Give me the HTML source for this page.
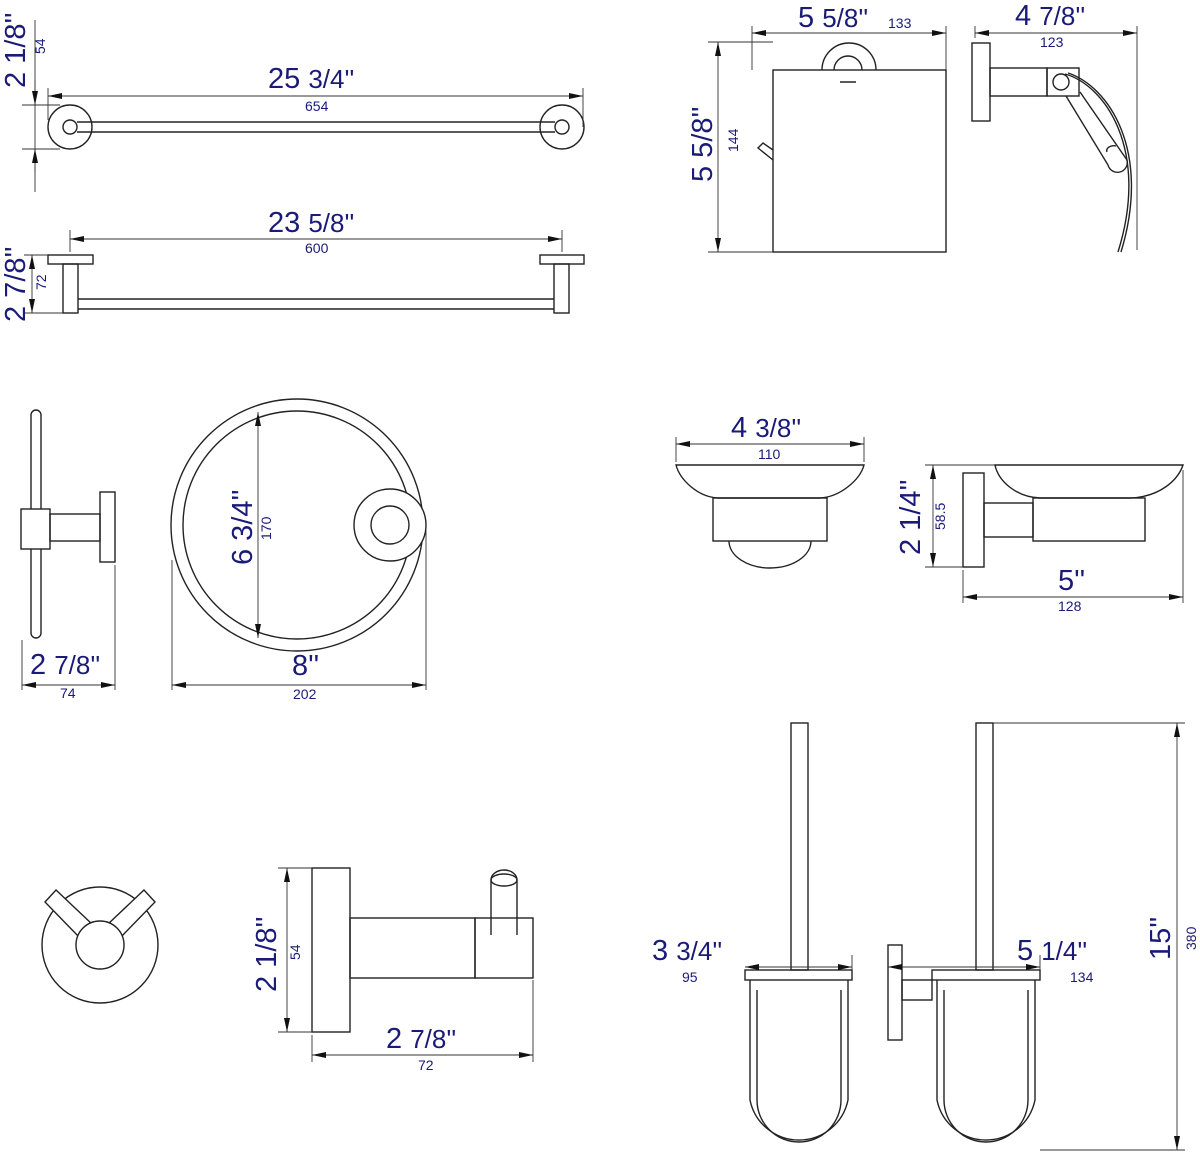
<!DOCTYPE html>
<html><head><meta charset="utf-8"><style>
html,body{margin:0;padding:0;background:#fff;}
svg{display:block;}
.l{fill:none;stroke:#222;stroke-width:1.4}
.w{fill:#fff;stroke:#222;stroke-width:1.4}
.d{fill:none;stroke:#333;stroke-width:0.9}
.b{fill:#1a1a78;font-family:"Liberation Sans",sans-serif;font-size:29px;}
.s{fill:#1a1a78;font-family:"Liberation Sans",sans-serif;font-size:14px;}
</style></head><body>
<svg width="1200" height="1152" viewBox="0 0 1200 1152" xmlns="http://www.w3.org/2000/svg">
<defs><marker id="a" markerWidth="14" markerHeight="8" refX="14" refY="4" orient="auto-start-reverse" markerUnits="userSpaceOnUse"><path d="M0,1 L14,4 L0,7 Z" fill="#111"/></marker></defs>

<!-- Towel bar 1 -->
<circle class="l" cx="70" cy="127" r="22"/><circle class="l" cx="70" cy="127" r="7"/>
<circle class="l" cx="562" cy="127" r="22"/><circle class="l" cx="562" cy="127" r="7"/>
<path class="l" d="M77,122 H555 M77,132 H555"/>
<path class="d" d="M48,88 V120 M583,88 V127 M22,105 H60 M22,149 H60 M35,20 V192"/>
<line class="d" x1="48" y1="96" x2="583" y2="96" marker-start="url(#a)" marker-end="url(#a)"/>
<line class="d" x1="35" y1="80" x2="35" y2="105" marker-end="url(#a)"/>
<line class="d" x1="35" y1="172" x2="35" y2="149" marker-end="url(#a)"/>
<text class="b" x="268" y="88">25 <tspan font-size="26">3/4''</tspan></text>
<text class="s" x="305" y="111">654</text>
<text class="b" transform="translate(25,88) rotate(-90)">2 1/8''</text>
<text class="s" transform="translate(45,54) rotate(-90)">54</text>

<!-- Towel bar 2 -->
<rect class="l" x="48" y="255" width="45" height="9"/><rect class="l" x="63" y="264" width="15" height="49"/>
<rect class="l" x="540" y="255" width="44" height="9"/><rect class="l" x="554" y="264" width="15" height="49"/>
<path class="l" d="M78,299 H554 M78,309 H554"/>
<path class="d" d="M70,230 V252 M562,230 V252 M24,255 H48 M24,313 H63"/>
<line class="d" x1="70" y1="239" x2="562" y2="239" marker-start="url(#a)" marker-end="url(#a)"/>
<line class="d" x1="32" y1="255" x2="32" y2="313" marker-start="url(#a)" marker-end="url(#a)"/>
<text class="b" x="268" y="232">23 <tspan font-size="26">5/8''</tspan></text>
<text class="s" x="305" y="253">600</text>
<text class="b" transform="translate(25,322) rotate(-90)">2 7/8''</text>
<text class="s" transform="translate(46,290) rotate(-90)">72</text>

<!-- Toilet paper front -->
<rect class="l" x="773" y="70" width="173" height="182"/>
<path class="l" d="M822,70 A27,27 0 0 1 876,70"/>
<path class="l" d="M834,70 A14,14 0 0 1 862,70 M840,82 H856"/>
<path class="l" d="M773,160 L758,148 L763,143 L773,150"/>
<path class="d" d="M752,26 V70 M946,26 V70 M708,42 H773 M708,252 H773"/>
<line class="d" x1="752" y1="33" x2="946" y2="33" marker-start="url(#a)" marker-end="url(#a)"/>
<line class="d" x1="718" y1="42" x2="718" y2="252" marker-start="url(#a)" marker-end="url(#a)"/>
<text class="b" x="798" y="27">5 <tspan font-size="26">5/8''</tspan></text>
<text class="s" x="888" y="28">133</text>
<text class="b" transform="translate(712,182) rotate(-90)">5 5/8''</text>
<text class="s" transform="translate(738,152) rotate(-90)">144</text>

<!-- Toilet paper side -->
<rect class="l" x="972" y="43" width="18" height="78"/>
<rect class="l" x="990" y="68" width="57" height="28"/>
<rect class="l" x="1047" y="68" width="32" height="28"/>
<circle class="l" cx="1061" cy="82" r="8"/>
<path class="l" d="M1065,74 C1105,85 1150,150 1118,252"/>
<path class="l" d="M1068,73 C1108,86 1152,150 1121,252"/>
<path class="l" d="M1066,96 L1108,165 A6,6 0 0 0 1127,160 L1080,92 M1107,152 A7,5 0 0 1 1116,146"/>
<path class="d" d="M975,26 V38 M1137,26 V250"/>
<line class="d" x1="975" y1="33" x2="1137" y2="33" marker-start="url(#a)" marker-end="url(#a)"/>
<text class="b" x="1015" y="25">4 <tspan font-size="26">7/8''</tspan></text>
<text class="s" x="1040" y="47">123</text>

<!-- Towel ring side -->
<rect class="l" x="31" y="410" width="10" height="228" rx="5"/>
<rect class="w" x="21" y="509" width="29" height="40"/>
<rect class="l" x="50" y="514" width="50" height="27"/>
<rect class="l" x="100" y="492" width="15" height="70"/>
<path class="d" d="M22,640 V690 M115,565 V690"/>
<line class="d" x1="22" y1="685" x2="115" y2="685" marker-start="url(#a)" marker-end="url(#a)"/>
<text class="b" x="30" y="674">2 <tspan font-size="26">7/8''</tspan></text>
<text class="s" x="60" y="698">74</text>

<!-- Towel ring front -->
<circle class="l" cx="297" cy="525" r="126"/><circle class="l" cx="297" cy="525" r="114"/>
<circle class="w" cx="390" cy="525" r="36"/><circle class="l" cx="390" cy="525" r="19"/>
<path class="d" d="M172,560 V690 M426,530 V690"/>
<line class="d" x1="258" y1="412" x2="258" y2="638" marker-start="url(#a)" marker-end="url(#a)"/>
<line class="d" x1="172" y1="685" x2="426" y2="685" marker-start="url(#a)" marker-end="url(#a)"/>
<text class="b" transform="translate(252,565) rotate(-90)">6 3/4''</text>
<text class="s" transform="translate(271,540) rotate(-90)">170</text>
<text class="b" x="292" y="675">8''</text>
<text class="s" x="293" y="699">202</text>

<!-- Soap dish front -->
<path class="l" d="M676,465 H864 C860,480 840,497 820,498 H718 C698,497 680,480 676,465 Z"/>
<rect class="l" x="713" y="498" width="114" height="43"/>
<path class="l" d="M729,541 A41,27 0 0 0 811,541"/>
<path class="d" d="M676,437 V462 M864,437 V462"/>
<line class="d" x1="676" y1="444" x2="864" y2="444" marker-start="url(#a)" marker-end="url(#a)"/>
<text class="b" x="731" y="437">4 <tspan font-size="26">3/8''</tspan></text>
<text class="s" x="758" y="459">110</text>

<!-- Soap dish side -->
<rect class="l" x="963" y="473" width="21" height="94"/>
<rect class="l" x="984" y="503" width="49" height="34"/>
<rect class="l" x="1033" y="498" width="112" height="43"/>
<path class="l" d="M995,465 H1183 C1178,480 1160,497 1130,498 H1040 C1015,497 998,480 995,465 Z"/>
<path class="d" d="M925,465 H995 M925,567 H963 M963,570 V603 M1183,470 V603"/>
<line class="d" x1="933" y1="465" x2="933" y2="567" marker-start="url(#a)" marker-end="url(#a)"/>
<line class="d" x1="963" y1="597" x2="1183" y2="597" marker-start="url(#a)" marker-end="url(#a)"/>
<text class="b" transform="translate(920,555) rotate(-90)">2 1/4''</text>
<text class="s" transform="translate(945,530) rotate(-90)">58.5</text>
<text class="b" x="1058" y="590">5''</text>
<text class="s" x="1058" y="611">128</text>

<!-- Robe hook front -->
<circle class="l" cx="100" cy="945" r="58"/>
<polygon class="w" points="45,902 56,890 93,925 80,938"/>
<polygon class="w" points="155,902 144,890 107,925 120,938"/>
<circle class="w" cx="100" cy="945" r="24"/>

<!-- Robe hook side -->
<rect class="l" x="312" y="868" width="38" height="164"/>
<rect class="l" x="350" y="918" width="125" height="60"/>
<rect class="l" x="475" y="918" width="58" height="60"/>
<path class="l" d="M491,935 V880 A13,10 0 0 1 517,880 V935"/>
<ellipse class="l" cx="504" cy="880" rx="13" ry="6"/>
<path class="d" d="M278,868 H312 M278,1032 H312 M312,1035 V1062 M533,980 V1062"/>
<line class="d" x1="287" y1="868" x2="287" y2="1032" marker-start="url(#a)" marker-end="url(#a)"/>
<line class="d" x1="312" y1="1055" x2="533" y2="1055" marker-start="url(#a)" marker-end="url(#a)"/>
<text class="b" transform="translate(276,992) rotate(-90)">2 1/8''</text>
<text class="s" transform="translate(300,960) rotate(-90)">54</text>
<text class="b" x="386" y="1048">2 <tspan font-size="26">7/8''</tspan></text>
<text class="s" x="418" y="1070">72</text>

<!-- Toilet brush 1 -->
<rect class="l" x="791" y="723" width="17" height="247"/>
<rect class="l" x="745" y="970" width="107" height="10"/>
<path class="l" d="M750,980 V1100 A50,50 0 0 0 848,1100 V980"/>
<path class="l" d="M757,990 V1100 A42,42 0 0 0 841,1100 V990"/>
<path class="d" d="M852,955 V970"/>
<line class="d" x1="745" y1="967" x2="852" y2="967" marker-start="url(#a)" marker-end="url(#a)"/>
<text class="b" x="652" y="960">3 <tspan font-size="26">3/4''</tspan></text>
<text class="s" x="682" y="982">95</text>

<!-- Toilet brush 2 -->
<rect class="l" x="976" y="723" width="17" height="247"/>
<rect class="l" x="888" y="945" width="14" height="95"/>
<rect class="l" x="902" y="980" width="30" height="20"/>
<rect class="l" x="932" y="970" width="108" height="10"/>
<path class="l" d="M937,980 V1100 A50,50 0 0 0 1035,1100 V980"/>
<path class="l" d="M944,990 V1100 A42,42 0 0 0 1028,1100 V990"/>
<path class="d" d="M1040,955 V970 M993,723 H1185 M1040,1150 H1185"/>
<line class="d" x1="888" y1="967" x2="1040" y2="967" marker-start="url(#a)" marker-end="url(#a)"/>
<line class="d" x1="1177" y1="723" x2="1177" y2="1150" marker-start="url(#a)" marker-end="url(#a)"/>
<text class="b" x="1017" y="960">5 <tspan font-size="26">1/4''</tspan></text>
<text class="s" x="1070" y="982">134</text>
<text class="b" transform="translate(1170,960) rotate(-90)">15''</text>
<text class="s" transform="translate(1196,950) rotate(-90)">380</text>
</svg>
</body></html>
